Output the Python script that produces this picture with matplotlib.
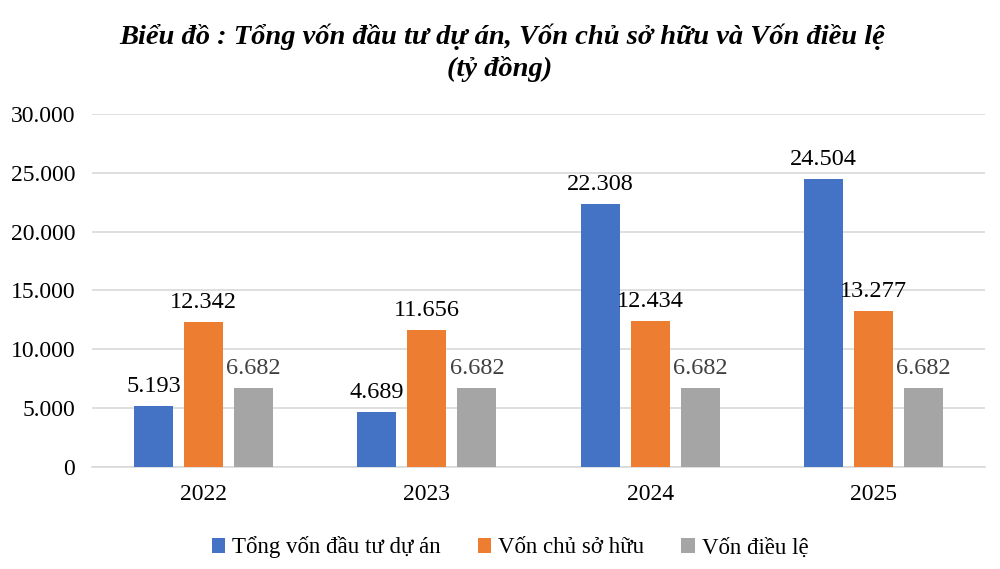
import numpy as np
import matplotlib.pyplot as plt
from matplotlib.ticker import FuncFormatter

years = ['2022', '2023', '2024', '2025']
tong_von = [5193, 4689, 22308, 24504]
von_chu_so_huu = [12342, 11656, 12434, 13277]
von_dieu_le = [6682, 6682, 6682, 6682]

series = [
    ('Tổng vốn đầu tư dự án', tong_von, '#4472C4', 'black'),
    ('Vốn chủ sở hữu', von_chu_so_huu, '#ED7D31', 'black'),
    ('Vốn điều lệ', von_dieu_le, '#A5A5A5', '#404040'),
]

plt.rcParams['font.family'] = ['Liberation Serif', 'DejaVu Serif']

def vn_num(v):
    return f'{int(round(v)):,}'.replace(',', '.')

fig = plt.figure(figsize=(10, 5.69), dpi=100)
ax = fig.add_axes([0.092, 0.179, 0.893, 0.621])

x = np.arange(len(years))
width = 0.175
step = 0.224

for i, (name, vals, color, lab_color) in enumerate(series):
    pos = x + (i - 1) * step
    bars = ax.bar(pos, vals, width, color=color, label=name, zorder=3)
    for b, v in zip(bars, vals):
        ax.annotate(vn_num(v), (b.get_x() + b.get_width() / 2, v),
                    xytext=(0, 6.5), textcoords='offset points',
                    ha='center', va='bottom', fontsize=17.5, color=lab_color)

ax.set_xlim(-0.5, 3.5)
ax.set_ylim(0, 30000)
ax.set_yticks(np.arange(0, 30001, 5000))
ax.yaxis.set_major_formatter(FuncFormatter(lambda v, p: vn_num(v)))
ax.set_xticks(x)
ax.set_xticklabels(years)
ax.tick_params(axis='both', length=0, labelsize=17, colors='black')
ax.tick_params(axis='x', pad=12)
ax.tick_params(axis='y', pad=12)
ax.grid(axis='y', color='#D9D9D9', linewidth=1.2, zorder=0)
for s in ['top', 'right', 'left']:
    ax.spines[s].set_visible(False)
ax.spines['bottom'].set_color('#D9D9D9')
ax.spines['bottom'].set_linewidth(1.2)

fig.text(0.502, 0.936, 'Biểu đồ : Tổng vốn đầu tư dự án, Vốn chủ sở hữu và Vốn điều lệ',
         ha='center', va='center', fontsize=20.5, fontweight='bold', style='italic')
fig.text(0.5, 0.878, '(tỷ đồng)', ha='center', va='center',
         fontsize=20.5, fontweight='bold', style='italic')

fig.legend(loc='center', bbox_to_anchor=(0.51, 0.038), ncol=3, frameon=False,
           fontsize=16.5, handlelength=0.6, handleheight=0.6, handletextpad=0.3,
           columnspacing=1.6)

fig.savefig('out.png', dpi=100)
